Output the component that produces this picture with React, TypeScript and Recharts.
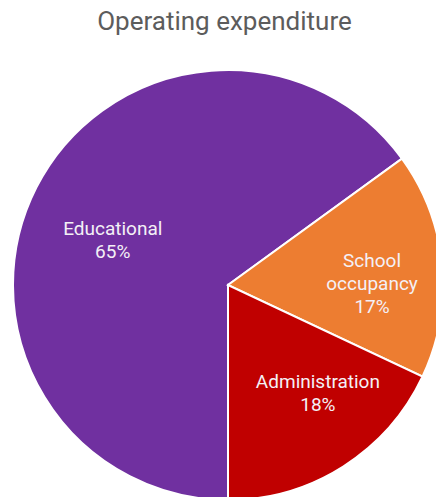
import { PieChart, Pie, Cell } from 'recharts';

const categories = ['Educational', 'School occupancy', 'Administration'];
const shares = [65, 17, 18];
const colors = ['#7030A0', '#ED7D31', '#C00000'];
// how each label is broken into lines
const labelLines = [['Educational'], ['School', 'occupancy'], ['Administration']];

const data = categories.map((name, i) => ({ name, value: shares[i], lines: labelLines[i] }));

const RAD = Math.PI / 180;

// small nudges so labels sit where the original renderer put them
const nudge: Record<string, { r: number; a: number }> = {
  Educational: { r: 0.577, a: 5.3 },
  'School occupancy': { r: 0.67, a: -4.6 },
  Administration: { r: 0.652, a: 7.5 },
};

function renderLabel(props: any) {
  const { cx, cy, midAngle, outerRadius, payload, value } = props;
  const n = nudge[payload.name] || { r: 0.67, a: 0 };
  const ang = (midAngle + n.a) * RAD;
  const x = cx + outerRadius * n.r * Math.cos(ang);
  const y = cy - outerRadius * n.r * Math.sin(ang);
  const lines: string[] = [...payload.lines, `${value}%`];
  const lh = 23;
  const top = y - ((lines.length - 1) * lh) / 2;
  return (
    <text
      x={x}
      y={top}
      fill="#f4f0f6"
      textAnchor="middle"
      dominantBaseline="central"
      fontFamily="Roboto, sans-serif"
      fontSize={19}
    >
      {lines.map((l, i) => (
        <tspan key={i} x={x} y={top + i * lh} dominantBaseline="central">
          {l}
        </tspan>
      ))}
    </text>
  );
}

export default function App() {
  return (
    <div
      style={{
        position: 'fixed',
        left: 0,
        top: 0,
        width: 436,
        height: 497,
        overflow: 'hidden',
        background: '#fff',
      }}
    >
      <div
        style={{
          position: 'absolute',
          left: 0,
          top: 6,
          width: 449,
          textAlign: 'center',
          fontFamily: 'Roboto, sans-serif',
          fontSize: 26,
          lineHeight: '30px',
          color: '#5c5c5c',
          zIndex: 2,
        }}
      >
        Operating expenditure
      </div>
      <PieChart width={460} height={520} margin={{ top: 0, right: 0, bottom: 0, left: 0 }}>
        <Pie
          data={data}
          dataKey="value"
          nameKey="name"
          cx={228}
          cy={285}
          outerRadius={215}
          startAngle={270}
          endAngle={-90}
          stroke="#ffffff"
          strokeWidth={2}
          label={renderLabel}
          labelLine={false}
          isAnimationActive={false}
        >
          {data.map((d, i) => (
            <Cell key={d.name} fill={colors[i]} />
          ))}
        </Pie>
      </PieChart>
    </div>
  );
}
